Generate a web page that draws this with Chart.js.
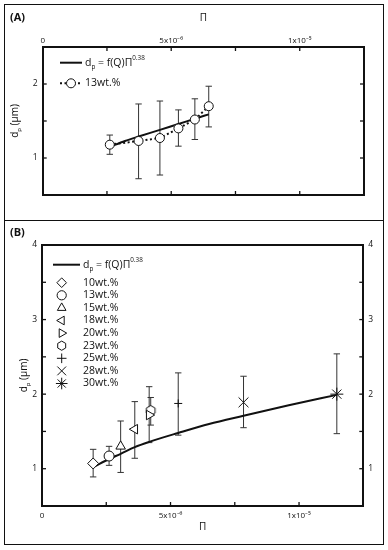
<!DOCTYPE html>
<html>
<head>
<meta charset="utf-8">
<script src="https://cdn.jsdelivr.net/npm/chart.js@4.4.1/dist/chart.umd.min.js"></script>
<style>
  body { margin: 0; background: #fff; width: 388px; height: 550px; position: relative; overflow: hidden; font-family: 'Open Sans', sans-serif; }
  canvas { position: absolute; left: 0; }
  #cA { top: 0; }
  #cB { top: 220px; }
  .frame { position: absolute; border: 1.5px solid #111; box-sizing: border-box; pointer-events: none; }
  .tag { position: absolute; font-weight: bold; font-size: 11px; color: #111; }
</style>
</head>
<body>
<canvas id="cA" width="388" height="220"></canvas>
<canvas id="cB" width="388" height="330"></canvas>
<div class="frame" style="left:4px;top:4px;width:380px;height:217px"></div>
<div class="frame" style="left:4px;top:220px;width:380px;height:325px"></div>
<div class="tag" style="left:10px;top:9px">(A)</div>
<div class="tag" style="left:10px;top:224px">(B)</div>
<script>
// axis ticks
const xTickMarks = [0, 2.5e-6, 5e-6, 7.5e-6, 1e-5, 1.25e-5];
const xTickValues = [0, 5e-6, 1e-5];
const xTickLabels = ['0', '5x10⁻⁶', '1x10⁻⁵'];
const yTickMarksA = [0.5, 1, 1.5, 2, 2.5];
const yTickMarksB = [0.5, 1, 1.5, 2, 2.5, 3, 3.5, 4];

// (A) 13 wt.%
const aPi = [2.61e-6, 3.73e-6, 4.56e-6, 5.28e-6, 5.92e-6, 6.46e-6];
const aDp = [1.18, 1.23, 1.27, 1.40, 1.52, 1.70];
const aLow = [1.05, 0.72, 0.77, 1.16, 1.25, 1.42];
const aHigh = [1.31, 1.73, 1.77, 1.65, 1.80, 1.97];
const aFitPi = [2.61e-6, 3.2e-6, 3.73e-6, 4.56e-6, 5.28e-6, 5.92e-6, 6.46e-6];
const aFitDp = [1.15, 1.23, 1.29, 1.38, 1.46, 1.53, 1.59];

// (B) all concentrations
const bLabels = ['10wt.%', '13wt.%', '15wt.%', '18wt.%', '20wt.%', '23wt.%', '25wt.%', '28wt.%', '30wt.%'];
const bPi = [1.99e-6, 2.61e-6, 3.06e-6, 3.61e-6, 4.17e-6, 4.23e-6, 5.30e-6, 7.84e-6, 1.147e-5];
const bDp = [1.07, 1.17, 1.30, 1.53, 1.72, 1.78, 1.875, 1.89, 2.00];
const bLow = [0.89, 1.045, 0.95, 1.14, 1.35, 1.585, 1.45, 1.55, 1.47];
const bHigh = [1.26, 1.30, 1.64, 1.90, 2.10, 1.955, 2.285, 2.24, 2.54];
const bFitPi = [2.05e-6, 2.61e-6, 3.06e-6, 3.61e-6, 4.17e-6, 5.30e-6, 6.5e-6, 7.84e-6, 9.6e-6, 1.147e-5];
const bFitDp = [1.03, 1.13, 1.20, 1.29, 1.36, 1.48, 1.60, 1.71, 1.85, 1.99];

const black = '#111';
const fam = 'Open Sans';

function hexPath(g, cx, cy, r) {
  g.beginPath();
  for (let i = 0; i < 6; i++) {
    const a = -Math.PI / 2 + i * Math.PI / 3;
    const px = cx + r * Math.cos(a), py = cy + r * Math.sin(a);
    i ? g.lineTo(px, py) : g.moveTo(px, py);
  }
  g.closePath();
}

// hexagon marker as image
function hexagon(r) {
  const c = document.createElement('canvas');
  const s = 2 * Math.ceil(r) + 3;
  c.width = s; c.height = s;
  const g = c.getContext('2d');
  hexPath(g, s / 2, s / 2, r);
  g.fillStyle = '#fff'; g.fill();
  g.strokeStyle = black; g.lineWidth = 1; g.stroke();
  return c;
}

const hexImg = hexagon(5);
const markerStyles = ['rectRot', 'circle', 'triangle', 'triangle', 'triangle', hexImg, 'cross', 'crossRot', 'star'];
const markerRot = [0, 0, 0, -90, 90, 0, 0, 0, 0];
const markerSize = [5.5, 5, 5.5, 5.5, 5.5, 5, 4, 7, 6.5];
const legendSize = [4.8, 4.6, 5, 5, 5, 4.6, 4.8, 6.2, 5.8];

function xScale(position, labels, boxH, titlePad, tickPad) {
  return {
    type: 'linear', position: position, min: 0, max: 1.25e-5,
    afterBuildTicks: s => { s.ticks = xTickMarks.map(v => ({ value: v })); },
    ticks: {
      display: labels, font: { family: fam, size: 8 }, color: black, padding: tickPad,
      maxRotation: 0, autoSkip: false,
      callback: v => {
        const i = xTickValues.findIndex(t => Math.abs(t - v) < 1e-12);
        return i < 0 ? '' : xTickLabels[i];
      }
    },
    grid: { display: false, drawTicks: false },
    border: { display: true, color: black, width: 2 },
    title: titlePad ? { display: true, text: 'Π', font: { family: fam, size: 10 }, color: black, padding: titlePad } : { display: false },
    afterFit: s => { s.height = boxH; }
  };
}

function yScale(position, labels, boxW, max, marks) {
  return {
    type: 'linear', position: position, min: 0.5, max: max,
    afterBuildTicks: s => { s.ticks = marks.map(v => ({ value: v })); },
    ticks: {
      display: labels, font: { family: fam, size: 8.5 }, color: black, padding: 5,
      callback: v => Number.isInteger(v) ? String(v) : ''
    },
    grid: { display: false, drawTicks: false },
    border: { display: true, color: black, width: 2 },
    afterFit: s => { s.width = boxW; }
  };
}

// sub / superscript text
function richText(ctx, parts, x, y, size, align) {
  const fnt = k => (k ? size * 0.6 : size) + 'px "' + fam + '"';
  let w = 0;
  parts.forEach(p => { ctx.font = fnt(p[1]); w += ctx.measureText(p[0]).width; });
  let cx = align === 'center' ? x - w / 2 : x;
  ctx.textAlign = 'left';
  ctx.textBaseline = 'middle';
  ctx.fillStyle = black;
  parts.forEach(p => {
    ctx.font = fnt(p[1]);
    const dy = p[1] < 0 ? size * 0.4 : (p[1] > 0 ? -size * 0.38 : 0);
    ctx.fillText(p[0], cx, y + dy);
    cx += ctx.measureText(p[0]).width;
  });
}

const fitText = [['d', 0], ['p', -1], [' = f(Q)Π', 0], ['0.38', 1]];
const yTitle = [['d', 0], ['p', -1], [' (μm)', 0]];

const errorBars = {
  id: 'errorBars',
  beforeDatasetsDraw(chart) {
    const ctx = chart.ctx, ys = chart.scales.y;
    ctx.save();
    ctx.strokeStyle = '#333';
    ctx.lineWidth = 1;
    chart.data.datasets.forEach((ds, i) => {
      if (!ds.errLow) return;
      chart.getDatasetMeta(i).data.forEach((pt, j) => {
        const x = pt.x;
        const y1 = ys.getPixelForValue(ds.errLow[j]);
        const y2 = ys.getPixelForValue(ds.errHigh[j]);
        ctx.beginPath();
        ctx.moveTo(x, y1); ctx.lineTo(x, y2);
        ctx.moveTo(x - 3.2, y1); ctx.lineTo(x + 3.2, y1);
        ctx.moveTo(x - 3.2, y2); ctx.lineTo(x + 3.2, y2);
        ctx.stroke();
      });
    });
    ctx.restore();
  }
};

// tick marks pointing into the plot
const inwardTicks = {
  id: 'inwardTicks',
  afterDraw(chart) {
    const ctx = chart.ctx, a = chart.chartArea;
    ctx.save();
    ctx.strokeStyle = black;
    ctx.lineWidth = 1.3;
    Object.values(chart.scales).forEach(s => {
      s.ticks.forEach(t => {
        if (t.value <= s.min || t.value >= s.max) return;
        const p = s.getPixelForValue(t.value);
        ctx.beginPath();
        if (s.position === 'top') { ctx.moveTo(p, a.top); ctx.lineTo(p, a.top + 4); }
        if (s.position === 'bottom') { ctx.moveTo(p, a.bottom); ctx.lineTo(p, a.bottom - 4); }
        if (s.position === 'left') { ctx.moveTo(a.left, p); ctx.lineTo(a.left + 4, p); }
        if (s.position === 'right') { ctx.moveTo(a.right, p); ctx.lineTo(a.right - 4, p); }
        ctx.stroke();
      });
    });
    ctx.restore();
  }
};

Chart.register(errorBars, inwardTicks);

function marker(ctx, style, rot, r, x, y) {
  ctx.save();
  ctx.fillStyle = '#fff';
  ctx.strokeStyle = black;
  ctx.lineWidth = 1;
  if (style === hexImg) {
    hexPath(ctx, x, y, r);
    ctx.fill();
    ctx.stroke();
  } else {
    Chart.helpers.drawPoint(ctx, { pointStyle: style, rotation: rot, radius: r, borderWidth: 1 }, x, y);
  }
  ctx.restore();
}

const baseOptions = {
  responsive: false,
  animation: false,
  devicePixelRatio: 1,
  layout: { padding: 0 },
  plugins: { legend: { display: false }, tooltip: { enabled: false } }
};

// ---- (A)
const decorA = {
  id: 'decorA',
  afterDraw(chart) {
    const ctx = chart.ctx, a = chart.chartArea;
    ctx.save();
    ctx.strokeStyle = black; ctx.lineWidth = 2;
    ctx.beginPath(); ctx.moveTo(60, 62.7); ctx.lineTo(82, 62.7); ctx.stroke();
    ctx.setLineDash([2, 2.5]);
    ctx.beginPath(); ctx.moveTo(60, 83.3); ctx.lineTo(82, 83.3); ctx.stroke();
    ctx.setLineDash([]);
    marker(ctx, 'circle', 0, 4.5, 71, 83.3);
    richText(ctx, fitText, 85, 62.7, 10.5, 'left');
    richText(ctx, [['13wt.%', 0]], 85, 83.3, 10.5, 'left');
    ctx.translate(15, (a.top + a.bottom) / 2);
    ctx.rotate(-Math.PI / 2);
    richText(ctx, yTitle, 0, 0, 10, 'center');
    ctx.restore();
  }
};

new Chart(document.getElementById('cA'), {
  type: 'scatter',
  data: {
    datasets: [
      {
        label: '13wt.%',
        data: aPi.map((x, i) => ({ x: x, y: aDp[i] })),
        showLine: true, borderColor: black, borderWidth: 2, borderDash: [2, 2.5],
        pointStyle: 'circle', pointRadius: 4.5, pointBackgroundColor: '#fff',
        pointBorderColor: black, pointBorderWidth: 1,
        errLow: aLow, errHigh: aHigh
      },
      {
        label: 'fit',
        data: aFitPi.map((x, i) => ({ x: x, y: aFitDp[i] })),
        showLine: true, borderColor: black, borderWidth: 2, pointRadius: 0,
        cubicInterpolationMode: 'monotone'
      }
    ]
  },
  options: Object.assign({}, baseOptions, {
    scales: {
      x: xScale('top', true, 47, { top: 12 }, 1),
      x2: xScale('bottom', false, 25, null, 3),
      y: yScale('left', true, 42.7, 2.5, yTickMarksA),
      y2: yScale('right', false, 24, 2.5, yTickMarksA)
    }
  }),
  plugins: [decorA]
});

// ---- (B)
const decorB = {
  id: 'decorB',
  afterDraw(chart) {
    const ctx = chart.ctx, a = chart.chartArea;
    ctx.save();
    ctx.strokeStyle = black; ctx.lineWidth = 2;
    ctx.beginPath(); ctx.moveTo(53, 44.7); ctx.lineTo(80, 44.7); ctx.stroke();
    richText(ctx, fitText, 83, 44.7, 10.5, 'left');
    bLabels.forEach((lab, i) => {
      const y = 62.7 + i * 12.6;
      marker(ctx, markerStyles[i], markerRot[i], legendSize[i], 61.7, y);
      richText(ctx, [[lab, 0]], 83, y, 10.5, 'left');
    });
    ctx.translate(24, (a.top + a.bottom) / 2);
    ctx.rotate(-Math.PI / 2);
    richText(ctx, yTitle, 0, 0, 10, 'center');
    ctx.restore();
  }
};

const bSets = bLabels.map((lab, i) => ({
  label: lab,
  data: [{ x: bPi[i], y: bDp[i] }],
  pointStyle: markerStyles[i], rotation: markerRot[i], pointRadius: markerSize[i],
  pointBackgroundColor: '#fff', pointBorderColor: black, pointBorderWidth: 1,
  errLow: [bLow[i]], errHigh: [bHigh[i]]
}));
bSets.push({
  label: 'fit',
  data: bFitPi.map((x, i) => ({ x: x, y: bFitDp[i] })),
  showLine: true, borderColor: black, borderWidth: 2, pointRadius: 0,
  cubicInterpolationMode: 'monotone'
});

new Chart(document.getElementById('cB'), {
  type: 'scatter',
  data: { datasets: bSets },
  options: Object.assign({}, baseOptions, {
    scales: {
      x: xScale('bottom', true, 44, { bottom: 17 }, 5),
      x2: Object.assign(xScale('top', false, 25, null, 3), { afterBuildTicks: s => { s.ticks = [{ value: 0 }, { value: 1.25e-5 }]; } }),
      y: yScale('left', true, 42, 4, yTickMarksB),
      y2: yScale('right', true, 24.7, 4, yTickMarksB)
    }
  }),
  plugins: [decorB]
});
</script>
</body>
</html>
